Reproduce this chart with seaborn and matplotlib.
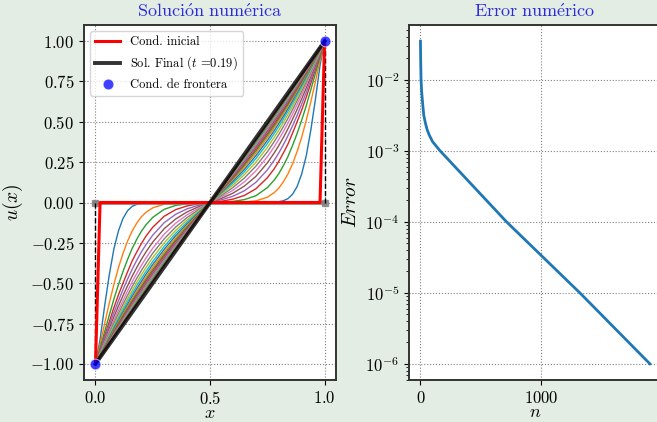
import numpy as np
import pandas as pd
import matplotlib
matplotlib.use("Agg")
import matplotlib.pyplot as plt
import seaborn as sns

# mitad derecha de la malla (la solucion es antisimetrica respecto a x = 0.5)
x_mitad = [0.50, 0.55, 0.60, 0.65, 0.70, 0.75, 0.78, 0.80, 0.82,
           0.84, 0.86, 0.88, 0.90, 0.92, 0.94, 0.96, 0.98, 1.00]

# perfiles intermedios u(x) leidos sobre x_mitad
perfiles = [
    [0, 0.000, 0.000, 0.000, 0.000, 0.000, 0.002, 0.005, 0.011, 0.024, 0.051, 0.099, 0.177, 0.290, 0.450, 0.640, 0.850, 1],
    [0, 0.000, 0.001, 0.003, 0.010, 0.033, 0.061, 0.089, 0.128, 0.177, 0.239, 0.316, 0.405, 0.510, 0.625, 0.750, 0.880, 1],
    [0, 0.002, 0.007, 0.018, 0.042, 0.092, 0.139, 0.179, 0.228, 0.285, 0.353, 0.428, 0.510, 0.600, 0.700, 0.800, 0.900, 1],
    [0, 0.008, 0.021, 0.044, 0.085, 0.153, 0.209, 0.255, 0.307, 0.362, 0.430, 0.500, 0.573, 0.653, 0.740, 0.826, 0.915, 1],
    [0, 0.017, 0.039, 0.073, 0.125, 0.202, 0.262, 0.307, 0.358, 0.414, 0.475, 0.540, 0.610, 0.683, 0.760, 0.838, 0.919, 1],
    [0, 0.026, 0.058, 0.102, 0.162, 0.245, 0.307, 0.353, 0.403, 0.457, 0.516, 0.577, 0.642, 0.710, 0.781, 0.853, 0.926, 1],
    [0, 0.035, 0.076, 0.128, 0.196, 0.283, 0.345, 0.391, 0.440, 0.492, 0.548, 0.607, 0.668, 0.732, 0.797, 0.864, 0.932, 1],
    [0, 0.044, 0.093, 0.152, 0.225, 0.314, 0.377, 0.422, 0.470, 0.521, 0.575, 0.631, 0.689, 0.749, 0.810, 0.873, 0.936, 1],
    [0, 0.052, 0.108, 0.173, 0.250, 0.341, 0.404, 0.448, 0.496, 0.545, 0.597, 0.650, 0.706, 0.763, 0.821, 0.880, 0.940, 1],
    [0, 0.059, 0.121, 0.191, 0.272, 0.365, 0.427, 0.471, 0.517, 0.565, 0.615, 0.667, 0.720, 0.774, 0.830, 0.886, 0.943, 1],
    [0, 0.064, 0.132, 0.206, 0.290, 0.384, 0.446, 0.490, 0.535, 0.582, 0.631, 0.681, 0.732, 0.784, 0.837, 0.891, 0.946, 1],
    [0, 0.069, 0.142, 0.220, 0.306, 0.401, 0.463, 0.506, 0.551, 0.597, 0.644, 0.692, 0.742, 0.792, 0.844, 0.895, 0.948, 1],
    [0, 0.074, 0.150, 0.232, 0.320, 0.416, 0.477, 0.520, 0.564, 0.609, 0.655, 0.702, 0.750, 0.799, 0.849, 0.899, 0.949, 1],
    [0, 0.078, 0.158, 0.242, 0.332, 0.428, 0.489, 0.532, 0.575, 0.619, 0.665, 0.711, 0.758, 0.805, 0.853, 0.902, 0.951, 1],
    [0, 0.081, 0.164, 0.250, 0.342, 0.439, 0.500, 0.542, 0.584, 0.628, 0.673, 0.718, 0.764, 0.810, 0.857, 0.905, 0.952, 1],
    [0, 0.084, 0.169, 0.258, 0.350, 0.448, 0.508, 0.550, 0.593, 0.636, 0.680, 0.724, 0.769, 0.815, 0.861, 0.907, 0.953, 1],
    [0, 0.086, 0.174, 0.264, 0.357, 0.455, 0.516, 0.557, 0.599, 0.642, 0.685, 0.729, 0.774, 0.818, 0.864, 0.909, 0.954, 1],
    [0, 0.088, 0.177, 0.269, 0.364, 0.462, 0.522, 0.564, 0.605, 0.648, 0.690, 0.734, 0.777, 0.822, 0.866, 0.910, 0.955, 1],
    [0, 0.090, 0.181, 0.274, 0.369, 0.467, 0.528, 0.569, 0.610, 0.652, 0.695, 0.738, 0.781, 0.824, 0.868, 0.912, 0.956, 1],
    [0, 0.091, 0.184, 0.277, 0.373, 0.472, 0.533, 0.573, 0.615, 0.656, 0.699, 0.741, 0.784, 0.827, 0.870, 0.913, 0.957, 1],
    [0, 0.093, 0.186, 0.281, 0.377, 0.476, 0.537, 0.577, 0.618, 0.660, 0.702, 0.744, 0.786, 0.829, 0.871, 0.914, 0.957, 1],
    [0, 0.094, 0.188, 0.283, 0.381, 0.480, 0.540, 0.581, 0.622, 0.663, 0.704, 0.746, 0.788, 0.830, 0.872, 0.915, 0.957, 1],
    [0, 0.095, 0.190, 0.286, 0.383, 0.483, 0.543, 0.583, 0.624, 0.665, 0.707, 0.748, 0.790, 0.832, 0.874, 0.916, 0.958, 1],
    [0, 0.095, 0.191, 0.288, 0.386, 0.485, 0.545, 0.586, 0.627, 0.668, 0.709, 0.750, 0.791, 0.833, 0.875, 0.916, 0.958, 1],
    [0, 0.096, 0.193, 0.290, 0.388, 0.487, 0.548, 0.588, 0.629, 0.669, 0.710, 0.751, 0.793, 0.834, 0.875, 0.917, 0.958, 1],
    [0, 0.097, 0.194, 0.291, 0.390, 0.489, 0.549, 0.590, 0.630, 0.671, 0.712, 0.753, 0.794, 0.835, 0.876, 0.917, 0.959, 1],
]

x_inicial = [0.0, 0.02, 0.98, 1.0]
u_inicial = [-1.0, 0.0, 0.0, 1.0]
x_final = [0.0, 0.5, 1.0]
u_final = [-1.0, 0.0, 1.0]
x_frontera = [0.0, 1.0]
u_frontera = [-1.0, 1.0]
t_final = 0.19

n_iter = [0, 2, 5, 10, 17, 27, 40, 55, 72, 100, 163, 715, 1324, 1906]
error = [3.5e-2, 1.8e-2, 1.0e-2, 6.8e-3, 4.9e-3, 3.2e-3, 2.5e-3, 2.0e-3, 1.68e-3, 1.35e-3,
         1.0e-3, 1.0e-4, 1.0e-5, 1.0e-6]

fondo = "#e4ede4"
plt.rcParams.update({
    "font.family": "serif",
    "font.serif": ["cmr10"],
    "mathtext.fontset": "cm",
    "axes.formatter.use_mathtext": True,
    "axes.edgecolor": "#333333",
    "axes.linewidth": 1.4,
    "xtick.labelsize": 12,
    "ytick.labelsize": 12,
    "xtick.direction": "out",
    "ytick.direction": "out",
})

fig = plt.figure(figsize=(6.57, 4.22), dpi=100, facecolor=fondo)
ax1 = fig.add_axes([0.1279, 0.0995, 0.3836, 0.8412])
ax2 = fig.add_axes([0.6225, 0.0995, 0.3842, 0.8412])

colores = sns.color_palette("tab10")
xm = np.array(x_mitad)
x_todo = np.concatenate([1 - xm[::-1], xm[1:]])
for i, p in enumerate(perfiles):
    p = np.array(p)
    u_todo = np.concatenate([-p[::-1], p[1:]])
    sns.lineplot(x=x_todo, y=u_todo, color=colores[i % 10], lw=1.0, ax=ax1,
                 sort=False, estimator=None)

# linea gris en cero y lineas punteadas en las fronteras
ax1.plot(x_frontera, np.zeros(len(x_frontera)), color="gray", lw=3, marker="s", ms=4, alpha=0.8)
ax1.vlines(x_frontera, 0, u_frontera, colors="k", linestyles="--", lw=1)

sns.lineplot(x=x_inicial, y=u_inicial, color="red", lw=2.2, ax=ax1, sort=False,
             estimator=None, label="Cond. inicial")
sns.lineplot(x=x_final, y=u_final, color="k", lw=2.8, alpha=0.8, ax=ax1, sort=False,
             estimator=None, label=r"Sol. Final ($t$ =%.2f)" % t_final)
sns.scatterplot(x=x_frontera, y=u_frontera, color="blue", s=60, alpha=0.75, ax=ax1,
                zorder=5, label="Cond. de frontera")

ax1.set_xticks([0, 0.5, 1.0])
ax1.set_xlabel(r"$x$", fontsize=13, labelpad=-0.5)
ax1.set_ylabel(r"$u(x)$", fontsize=14)
ax1.set_title(r"$\mathrm{Soluci\acute{o}n\ num\acute{e}rica}$", color="#2b2bd9", fontsize=13)
ax1.grid(True, ls=":", color="gray", lw=0.8)
ax1.legend(loc="upper left", fontsize=9)

sns.lineplot(x=n_iter, y=error, color=colores[0], lw=2, ax=ax2, sort=False, estimator=None)
ax2.set_yscale("log")
ax2.set_xticks([0, 1000])
ax2.set_xlabel(r"$n$", fontsize=13, labelpad=-0.5)
ax2.set_ylabel(r"$Error$", fontsize=14)
ax2.set_title(r"$\mathrm{Error\ num\acute{e}rico}$", color="#2b2bd9", fontsize=13)
ax2.grid(True, ls=":", color="gray", lw=0.8)

fig.savefig("out.png", dpi=100, facecolor=fondo)
